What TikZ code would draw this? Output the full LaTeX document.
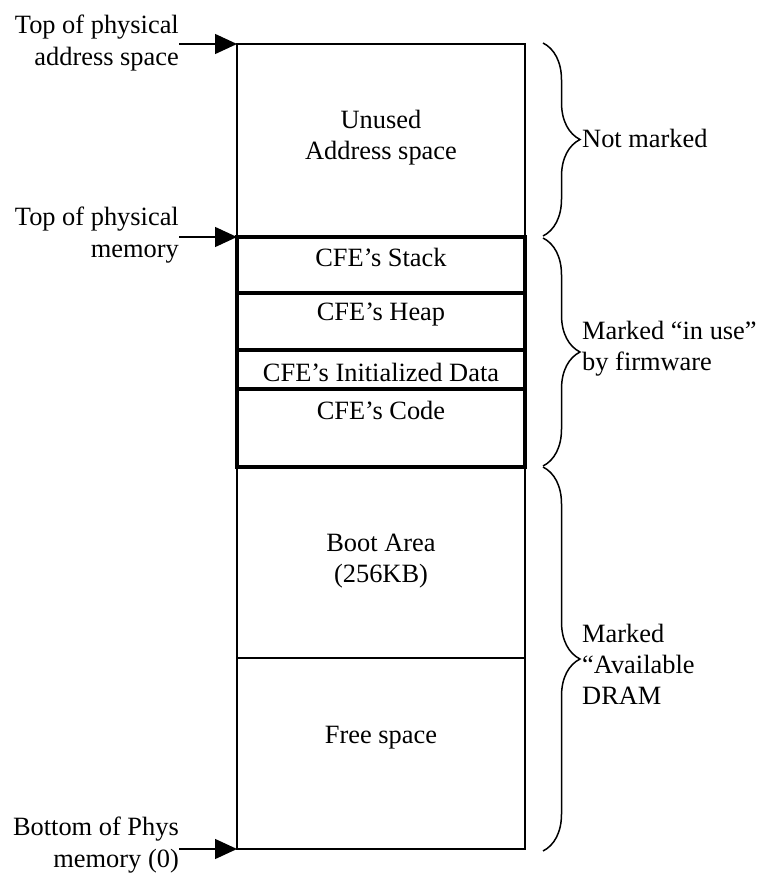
\documentclass[tikz,border=0pt]{standalone}
\usepackage{fontspec}
\setmainfont{Liberation Serif}
\usetikzlibrary{arrows.meta,decorations.pathreplacing}
\begin{document}
\begin{tikzpicture}[x=1pt,y=-1pt,
  txt/.style={font=\fontsize{26.4}{31}\selectfont, inner sep=0pt, align=center},
  lbl/.style={txt, font=\fontsize{26.4}{32}\selectfont, anchor=east, align=right},
  rlbl/.style={txt, anchor=west, align=left},
  thinline/.style={line width=1.5pt},
  thickbox/.style={line width=4.3pt},
  arr/.style={line width=1.4pt,-{Triangle[length=22pt,width=20pt]}},
  br/.style={line width=1.5pt,decorate,decoration={brace,amplitude=37pt}}]
\useasboundingbox (0,0) rectangle (758,874);

% key points on the left edge of the column
\coordinate (ptop) at (237,44);
\coordinate (pmem) at (237,237);
\coordinate (pbot) at (237,849);

% column
\draw[thinline] (237,44) rectangle (525,849);
\draw[thinline] (237,658) -- (525,658);

% firmware-used area
\draw[thickbox] (237,237) rectangle (525,467);
\draw[thickbox] (237,293) -- (525,293);
\draw[thickbox] (237,350) -- (525,350);
\draw[thickbox] (237,389) -- (525,389);

% texts inside the column
\node[txt] (unused) at (381,138) {Unused\\Address space};
\node[txt] (stack) at (381,257) {CFE’s Stack};
\node[txt] (heap) at (381,315) {CFE’s Heap};
\node[txt] (idata) at (381,372) {CFE’s Initialized Data};
\node[txt] (code) at (381,410) {CFE’s Code};
\node[txt] (boot) at (381,561) {Boot Area\\(256KB)};
\node[txt] (free) at (381,738) {Free space};

% left labels and arrows
\node[lbl] (l1) at (179,43) {Top of physical\\address space};
\node[lbl] (l2) at (179,235) {Top of physical\\memory};
\node[lbl] (l3) at (179,845) {Bottom of Phys\\memory (0)};
\draw[arr] (l1.east |- ptop) -- (ptop);
\draw[arr] (l2.east |- pmem) -- (pmem);
\draw[arr] (l3.east |- pbot) -- (pbot);

% braces
\draw[br] (543,43) -- (543,236);
\draw[br] (543,238) -- (543,466);
\draw[br] (543,467) -- (543,851);

% right labels
\node[rlbl] (r1) at (582,138) {Not marked};
\node[rlbl] (r2) at (582,349) {Marked “in use”\\by firmware};
\node[rlbl] (r3) at (582,664) {Marked\\“Available\\DRAM};
\end{tikzpicture}
\end{document}
